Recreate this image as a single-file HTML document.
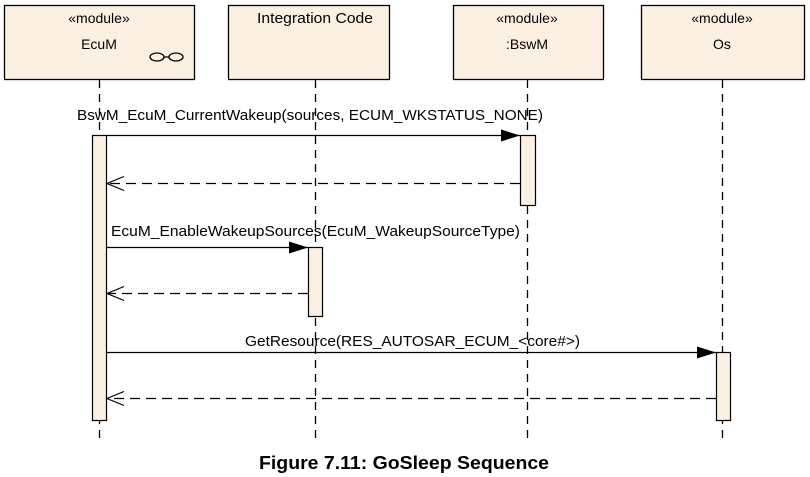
<!DOCTYPE html>
<html><head><style>
body{margin:0;background:#fff;}
svg{display:block;font-family:"Liberation Sans",sans-serif;}
</style></head><body>
<svg width="810" height="477" viewBox="0 0 810 477">
<defs>
<marker id="f" markerWidth="20" markerHeight="14" refX="19" refY="7" orient="auto" markerUnits="userSpaceOnUse"><path d="M0,1 L19,7 L0,13 Z" fill="#000"/></marker>
<marker id="o" markerWidth="20" markerHeight="16" refX="18" refY="8" orient="auto" markerUnits="userSpaceOnUse"><path d="M1,1 L18,8 L1,15" fill="none" stroke="#000" stroke-width="1.2"/></marker>
</defs>
<g fill="#fbf0e2" stroke="#000" stroke-width="1.3">
<rect x="4.5" y="5.5" width="190" height="74"/>
<rect x="228.5" y="5.5" width="161" height="74"/>
<rect x="453.5" y="5.5" width="150" height="74"/>
<rect x="641.5" y="5.5" width="163" height="74"/>
</g>
<g font-size="14" text-anchor="middle" fill="#000">
<text x="99" y="23">«module»</text><text x="99" y="49">EcuM</text>
<text x="315" y="23" font-size="14.5" textLength="116" lengthAdjust="spacingAndGlyphs">Integration Code</text>
<text x="527" y="23">«module»</text><text x="527" y="49">:BswM</text>
<text x="722" y="23">«module»</text><text x="722" y="49">Os</text>
</g>
<g fill="none" stroke="#000" stroke-width="1.3">
<ellipse cx="157" cy="57" rx="7" ry="4"/><ellipse cx="176" cy="57" rx="7" ry="4"/><line x1="164" y1="57" x2="169" y2="57"/>
</g>
<g stroke="#000" stroke-width="1.3" stroke-dasharray="8,6">
<line x1="99.5" y1="80" x2="99.5" y2="442"/>
<line x1="315.5" y1="80" x2="315.5" y2="442"/>
<line x1="527.5" y1="80" x2="527.5" y2="442"/>
<line x1="722.5" y1="80" x2="722.5" y2="442"/>
</g>
<g fill="#fbf0e2" stroke="#000" stroke-width="1.2">
<rect x="92.5" y="135.5" width="14" height="285"/>
<rect x="520.5" y="135.5" width="15" height="70"/>
<rect x="308.5" y="247.5" width="14" height="69"/>
<rect x="716.5" y="352.5" width="14" height="68"/>
</g>
<g stroke="#000" stroke-width="1.3">
<line x1="106" y1="135.5" x2="520" y2="135.5" marker-end="url(#f)"/>
<line x1="520" y1="183.5" x2="107" y2="183.5" stroke-dasharray="10,6" marker-end="url(#o)"/>
<line x1="106" y1="247.5" x2="308" y2="247.5" marker-end="url(#f)"/>
<line x1="308" y1="293.5" x2="107" y2="293.5" stroke-dasharray="10,6" marker-end="url(#o)"/>
<line x1="106" y1="352.5" x2="716" y2="352.5" marker-end="url(#f)"/>
<line x1="716" y1="398.5" x2="107" y2="398.5" stroke-dasharray="10,6" marker-end="url(#o)"/>
</g>
<g font-size="14.5" fill="#000">
<text x="77" y="120" textLength="466" lengthAdjust="spacingAndGlyphs">BswM_EcuM_CurrentWakeup(sources, ECUM_WKSTATUS_NONE)</text>
<text x="111" y="236" textLength="409" lengthAdjust="spacingAndGlyphs">EcuM_EnableWakeupSources(EcuM_WakeupSourceType)</text>
<text x="245" y="346" textLength="335" lengthAdjust="spacingAndGlyphs">GetResource(RES_AUTOSAR_ECUM_&lt;core#&gt;)</text>
</g>
<text x="259" y="469" font-size="18" font-weight="bold" textLength="290" lengthAdjust="spacingAndGlyphs">Figure 7.11: GoSleep Sequence</text>
</svg>
</body></html>
